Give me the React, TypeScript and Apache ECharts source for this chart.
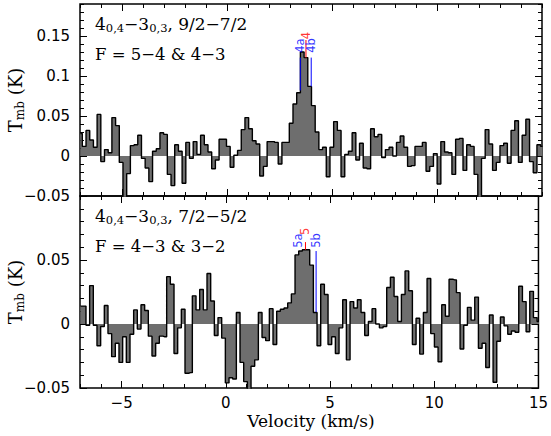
import React, { useEffect, useRef } from 'react';
import * as echarts from 'echarts';

// channel grid of the spectra (km/s)
const V_START = -6.977;
const DV = 0.176;

// T_mb (K) per channel, upper panel (9/2-7/2)
const TOP_T = [
  0.028, 0.012, 0.032, 0.020, 0.011, 0.052, -0.007, 0.008, 0.004, 0.048,
  0.038, -0.008, -0.065, -0.022, 0.013, 0.014, 0.026, -0.003, -0.015, -0.032,
  0.006, 0.009, 0.029, 0.027, -0.023, -0.037, 0.014, 0.006, -0.034, 0.017,
  -0.003, 0.018, 0.002, 0.026, 0.014, 0.005, -0.016, -0.005, 0.021, 0.021,
  0.012, -0.014, 0.001, 0.007, 0.033, 0.048, 0.034, 0.019, 0.015, -0.025,
  -0.013, 0.018, 0.018, 0.017, -0.010, 0.017, 0.017, 0.041, 0.065, 0.079,
  0.130, 0.123, 0.087, 0.063, 0.030, 0.008, 0.011, -0.026, 0.011, 0.043,
  0.032, -0.026, 0.002, 0.006, 0.029, -0.005, 0.016, -0.015, -0.016, 0.034,
  0.024, 0.027, -0.002, 0.008, 0.011, 0.000, 0.017, 0.025, 0.011, -0.013,
  -0.012, 0.012, 0.012, 0.017, -0.019, -0.013, 0.003, -0.035, 0.018, 0.005,
  0.004, -0.023, 0.021, 0.022, -0.018, 0.014, 0.012, -0.023, -0.065, -0.003,
  0.033, 0.015, -0.018, -0.008, 0.013, 0.016, -0.009, 0.032, 0.044, -0.008,
  0.026, 0.046, -0.007, -0.021, 0.014, 0.012,
];

// T_mb (K) per channel, lower panel (7/2-5/2)
const BOT_T = [
  0.014, 0.014, -0.001, 0.030, -0.001, -0.017, -0.002, 0.0145, -0.0075, -0.0255,
  -0.015, -0.030, -0.010, -0.030, -0.008, 0.011, -0.004, 0.015, 0.0105, -0.0095,
  -0.025, -0.015, -0.0095, -0.010, 0.037, 0.031, -0.023, -0.003, 0.0115, -0.0385,
  -0.038, 0.022, 0.011, 0.027, 0.011, 0.0395, 0.018, -0.009, 0.005, -0.011,
  -0.046, -0.042, -0.043, 0.009, -0.030, -0.045, -0.065, -0.033, -0.028, 0.009,
  -0.0105, -0.013, 0.012, -0.016, 0.010, 0.0115, 0.0125, 0.0165, 0.0235, 0.054,
  0.057, 0.058, 0.058, 0.046, 0.009, -0.017, 0.031, 0.023, -0.016, -0.010,
  -0.023, -0.003, 0.019, -0.028, 0.0175, 0.0125, 0.019, 0.009, -0.009, 0.002,
  0.012, 0.000, -0.003, -0.002, 0.0285, 0.0365, 0.0215, 0.002, 0.023, 0.0415,
  0.026, -0.016, 0.0045, -0.0235, 0.009, 0.0355, -0.0075, -0.018, -0.0295, 0.015,
  0.006, 0.035, 0.0345, 0.0245, -0.0195, -0.001, 0.013, 0.003, 0.021, -0.019,
  -0.015, -0.034, 0.007, -0.0455, -0.0135, 0.0055, -0.0015, -0.008, -0.0055, -0.0065,
  0.0295, 0.0175, -0.006, 0.0255, 0.005, 0.002,
];

const VELOCITY = TOP_T.map((_, i) => Number((V_START + i * DV).toFixed(4)));

const X_TICKS = [-5, 0, 5, 10];
const X_LABELS = [-5, 0, 5, 10, 15];
const TOP_Y_LABELS = [-0.05, 0, 0.05, 0.1, 0.15];
const BOT_Y_LABELS = [-0.05, 0, 0.05];

// hyperfine component markers: velocity, line extent, label base
const TOP_MARKS = [
  { label: '4a', v: 3.49, from: 0.082, to: 0.123, at: 0.129, kind: 'blue' },
  { label: '4', v: 3.76, from: 0.123, to: 0.145, at: 0.146, kind: 'red' },
  { label: '4b', v: 4.01, from: 0.087, to: 0.123, at: 0.129, kind: 'blue' },
];
const BOT_MARKS = [
  { label: '5a', v: 3.48, from: null, to: null, at: 0.0595, kind: 'blue' },
  { label: '5', v: 3.82, from: 0.058, to: 0.064, at: 0.0695, kind: 'red' },
  { label: '5b', v: 4.33, from: 0.0093, to: 0.057, at: 0.0595, kind: 'blue' },
];

const TOP_TITLE = ['4', '0,4', '\u22123', '0,3', ', 9/2\u22127/2'];
const TOP_F = 'F = 5\u22124 & 4\u22123';
const BOT_TITLE = ['4', '0,4', '\u22123', '0,3', ', 7/2\u22125/2'];
const BOT_F = 'F = 4\u22123 & 3\u22122';

const fmt = (v: number) => (v < 0 ? '\u2212' : '') + String(Math.abs(v));

const SERIF = 'DejaVu Serif';
const SANS = 'DejaVu Sans';
const COLORS: Record<string, string> = { blue: '#0000ff', red: '#ff0000' };

function buildOption() {
  const panels = [
    { top: 4, yMin: -0.05, yMax: 0.19, data: TOP_T, yLabels: TOP_Y_LABELS, marks: TOP_MARKS, title: TOP_TITLE, f: TOP_F },
    { top: 196, yMin: -0.05, yMax: 0.1, data: BOT_T, yLabels: BOT_Y_LABELS, marks: BOT_MARKS, title: BOT_TITLE, f: BOT_F },
  ];
  const tickLine = { color: '#000', width: 1 };
  const noLine = { show: false, onZero: false };
  const option: any = {
    animation: false,
    backgroundColor: '#fff',
    grid: [],
    xAxis: [],
    yAxis: [],
    series: [],
    graphic: [],
  };
  panels.forEach((p, g) => {
    option.grid.push({
      left: 80, width: 462, top: p.top, height: 192,
      show: true, borderColor: '#000', borderWidth: 1.5, backgroundColor: 'transparent',
    });
    const bx = { gridIndex: g, type: 'value', min: -7, max: 15, axisLine: noLine, splitLine: { show: false } };
    option.xAxis.push(
      {
        ...bx, position: 'bottom',
        axisTick: { inside: true, length: 7, customValues: X_TICKS, lineStyle: tickLine },
        axisLabel: {
          show: g === 1, customValues: X_LABELS, formatter: fmt, margin: 7,
          color: '#000', fontSize: 15, fontFamily: SANS,
        },
      },
      { ...bx, position: 'bottom', interval: 1, axisTick: { inside: true, length: 4, lineStyle: tickLine }, axisLabel: { show: false } },
      { ...bx, position: 'top', axisTick: { inside: true, length: 7, customValues: X_TICKS, lineStyle: tickLine }, axisLabel: { show: false } },
      { ...bx, position: 'top', interval: 1, axisTick: { inside: true, length: 4, lineStyle: tickLine }, axisLabel: { show: false } },
    );
    const by = { gridIndex: g, type: 'value', min: p.yMin, max: p.yMax, axisLine: noLine, splitLine: { show: false } };
    option.yAxis.push(
      {
        ...by, position: 'left',
        axisTick: { inside: true, length: 7, customValues: p.yLabels, lineStyle: tickLine },
        axisLabel: {
          customValues: p.yLabels, formatter: fmt, margin: 10,
          color: '#000', fontSize: 15, fontFamily: SANS,
        },
      },
      { ...by, position: 'left', interval: 0.01, axisTick: { inside: true, length: 4, lineStyle: tickLine }, axisLabel: { show: false } },
      { ...by, position: 'right', axisTick: { inside: true, length: 7, customValues: p.yLabels, lineStyle: tickLine }, axisLabel: { show: false } },
      { ...by, position: 'right', interval: 0.01, axisTick: { inside: true, length: 4, lineStyle: tickLine }, axisLabel: { show: false } },
    );
    const xi = g * 4;
    const yi = g * 4;
    option.series.push({
      type: 'line', xAxisIndex: xi, yAxisIndex: yi, step: 'middle', symbol: 'none', clip: true,
      data: VELOCITY.map((v, i) => [v, p.data[i]]),
      lineStyle: { color: '#000', width: 1.4 },
      areaStyle: { color: '#6e6e6e', opacity: 1 },
      z: 2,
    });
    p.marks.forEach((m) => {
      if (m.from != null) {
        option.series.push({
          type: 'line', xAxisIndex: xi, yAxisIndex: yi, symbol: 'none',
          data: [[m.v, m.from], [m.v, m.to]],
          lineStyle: { color: COLORS[m.kind], width: 1 }, z: 3,
        });
      }
      option.series.push({
        type: 'scatter', xAxisIndex: xi, yAxisIndex: yi, symbolSize: 1,
        itemStyle: { color: 'rgba(0,0,0,0)' },
        data: [[m.v, m.at]],
        label: {
          show: true, formatter: m.label, rotate: 90, position: 'inside',
          align: 'left', verticalAlign: 'middle',
          color: COLORS[m.kind], fontSize: 11.5, fontFamily: SANS,
        },
        z: 4,
      });
    });
    const rich = {
      m: { fontSize: 17, fontFamily: SERIF, lineHeight: 20, verticalAlign: 'middle', fill: '#000' },
      s: { fontSize: 11.5, fontFamily: SERIF, lineHeight: 12, verticalAlign: 'bottom', fill: '#000' },
    };
    const t = p.title;
    option.graphic.push(
      {
        type: 'text', x: 95, y: p.top + 19.5,
        style: {
          text: `{m|${t[0]}}{s|${t[1]}}{m|${t[2]}}{s|${t[3]}}{m|${t[4]}}`,
          rich, align: 'left', verticalAlign: 'middle',
        },
      },
      {
        type: 'text', x: 95, y: p.top + 50,
        style: { text: p.f, fontSize: 16.5, fontFamily: SERIF, fill: '#000', align: 'left', verticalAlign: 'middle' },
      },
      {
        type: 'text', x: 15.5, y: p.top + 96, rotation: Math.PI / 2,
        style: {
          text: '{m|T}{s|mb}{m| (K)}',
          rich: {
            m: { fontSize: 18, fontFamily: SERIF, lineHeight: 20, verticalAlign: 'middle', fill: '#000' },
            s: { fontSize: 12, fontFamily: SERIF, lineHeight: 12, verticalAlign: 'bottom', fill: '#000' },
          },
          align: 'center', verticalAlign: 'middle',
        },
      },
    );
  });
  option.graphic.push({
    type: 'text', x: 311, y: 421,
    style: { text: 'Velocity (km/s)', fontSize: 17, fontFamily: SERIF, fill: '#000', align: 'center', verticalAlign: 'middle' },
  });
  return option;
}

export default function App() {
  const ref = useRef<HTMLDivElement>(null);
  useEffect(() => {
    const chart = echarts.init(ref.current as HTMLDivElement, null, { renderer: 'svg' });
    chart.setOption(buildOption());
    return () => chart.dispose();
  }, []);
  return (
    <div
      ref={ref}
      style={{ position: 'fixed', left: 0, top: 0, width: 551, height: 436, background: '#fff' }}
    />
  );
}
